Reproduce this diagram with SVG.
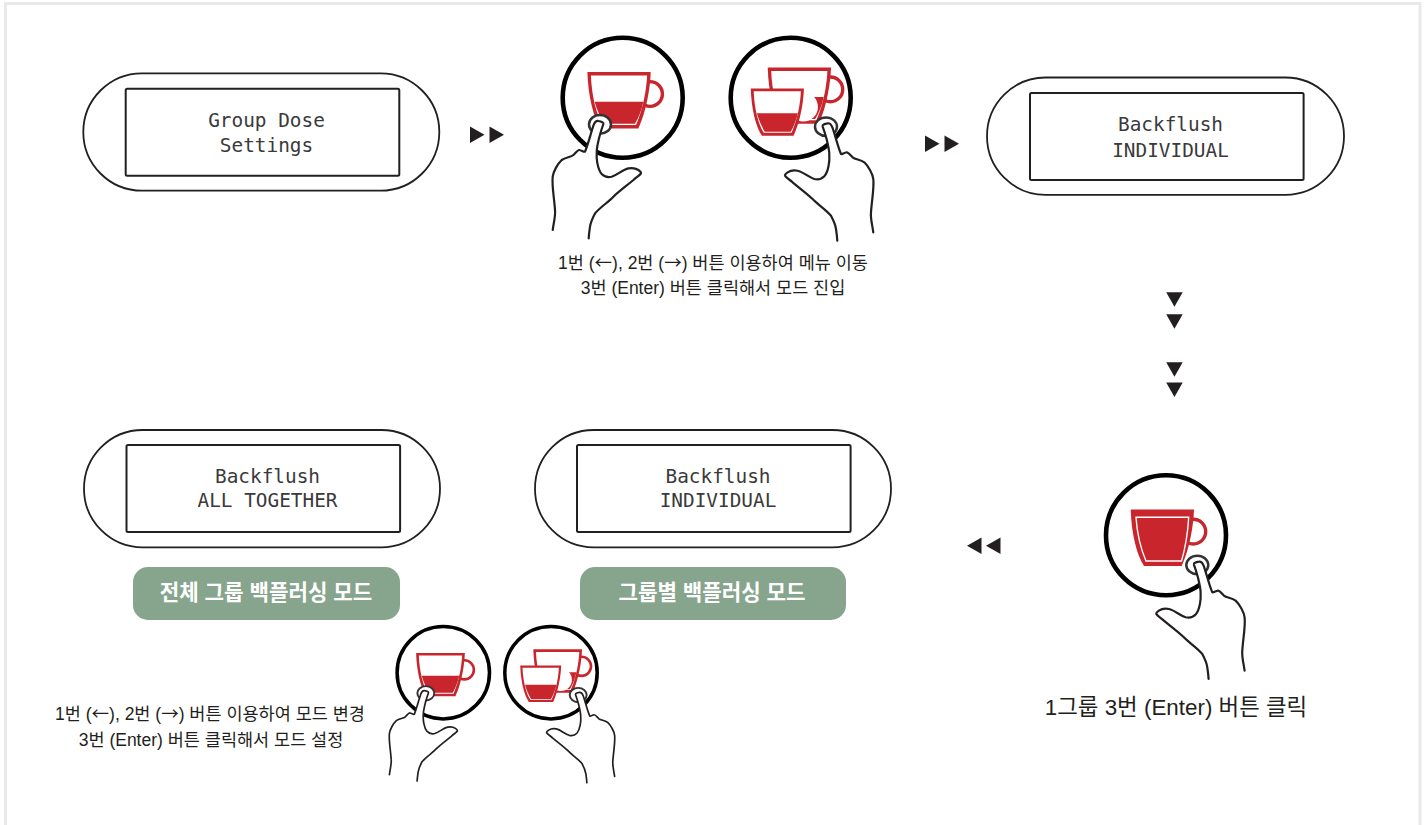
<svg xmlns="http://www.w3.org/2000/svg" xmlns:xlink="http://www.w3.org/1999/xlink" width="1428" height="825" viewBox="0 0 1428 825">
<style>
.frame{fill:#fff;stroke:#e9e9e9;stroke-width:3}
.pill{fill:#fff;stroke:#231f20;stroke-width:1.8}
.lcd{fill:#fff;stroke:#231f20;stroke-width:2}
.mono{font-family:"DejaVu Sans Mono","Liberation Mono",monospace;font-size:19.4px;fill:#3a3a3a;text-anchor:middle}
.ko{font-family:"Liberation Sans","Noto Sans CJK KR",sans-serif;fill:#231f20;text-anchor:middle}
.ar{font-family:"Noto Sans CJK KR",sans-serif}
.tag{fill:#87a48d}
.tagt{font-family:"Liberation Sans","Noto Sans CJK KR",sans-serif;font-size:21.2px;font-weight:700;fill:#fff;text-anchor:middle}
.arrow{fill:#231f20}
.red{fill:#c8252c}
.wh{fill:#fff}
.ring{fill:#fff;stroke:#333;stroke-width:2.5}
.hand{fill:#fff;stroke:#231f20;stroke-width:2.2;stroke-linejoin:round;stroke-linecap:round}
.dial{fill:#fff;stroke:#000;stroke-width:4.6}
</style>
<defs>
<path id="cupo" d="M-35.3,-25.7H28C27.5,-10 24,12 15.7,30.7H-22C-29,20 -34.5,0 -35.3,-25.7Z"/>
<path id="cupi" d="M-31.8,-22.2H24.4C23.8,-9 20.8,10 13.3,27.2H-19.8C-26,18 -31,-1 -31.8,-22.2Z"/>
<path id="liq" d="M-28,4H20.7C19,12 16,20 12.2,26H-18.7C-22,20 -26,12 -28,4Z"/>
<g id="cuphalf">
<circle cx="27.3" cy="-3.7" r="12.4" fill="#fff" stroke="#c8252c" stroke-width="3.4"/>
<use xlink:href="#cupo" href="#cupo" class="red"/>
<use xlink:href="#cupi" href="#cupi" class="wh"/>
<use xlink:href="#liq" href="#liq" class="red"/>
</g>
<g id="cupdouble">
<use xlink:href="#cuphalf" href="#cuphalf" transform="translate(12.3,-4.6)"/>
<circle cx="12.6" cy="9.2" r="14.6" fill="#fff"/>
<g transform="translate(-10.3,12.3) scale(.84)">
<use xlink:href="#cupo" href="#cupo" class="red"/>
<use xlink:href="#cupi" href="#cupi" class="wh"/>
<use xlink:href="#liq" href="#liq" class="red"/>
</g>
</g>
<g id="cupfull">
<circle cx="27.3" cy="-3.7" r="12.4" fill="#fff" stroke="#c8252c" stroke-width="3.4"/>
<use xlink:href="#cupo" href="#cupo" class="red"/>
<path d="M-30,-18H22.7C22,-6 19.5,12 15.5,25.7H-20C-25,14 -29,-2 -30,-18Z" class="red" stroke="#fff" stroke-width="1.4"/>
</g>
<g id="hand">
<ellipse cx="-22.7" cy="26.7" rx="11" ry="9.3" class="ring"/>
<path class="hand" d="M-70,132.3C-69,125 -67,118 -67.7,112.3C-68.5,100 -71,88 -70,79C-69.5,74 -65,66 -61,62.3C-57,59.5 -52,59.5 -49.3,57.3C-47,55 -45,52 -43.3,52.3C-41,52.8 -39,54.5 -37.7,54C-35,48 -32,36 -29.3,28C-28,24.5 -26,23 -24.3,23.3C-21,23.8 -19,25 -19.3,26.3C-21,31 -22.5,36 -23.3,39C-25,46 -26,50 -26,54C-26.3,60 -26.2,62 -25.3,65.7C-24.5,70 -23,74 -21,76.3C-18,79.5 -14,79.7 -11,79C-5,77 0,72 5.7,70.7C9,70 13,70.5 15.7,72.3C17.5,73.5 18.5,74.5 18.3,75.7C17,78 13.5,79.5 10.7,82.3C4,88 -3,93 -9.3,99C-15,105 -22,109 -27.7,115.7C-30,120 -32,124 -32.7,129C-33.3,133 -33.8,137 -34,140.7"/>
</g>
<g id="iconone">
<circle r="60" class="dial"/>
<use xlink:href="#cuphalf" href="#cuphalf"/>
<use xlink:href="#hand" href="#hand"/>
</g>
<g id="icontwo">
<circle r="60" class="dial"/>
<use xlink:href="#cupdouble" href="#cupdouble"/>
<use xlink:href="#hand" href="#hand" transform="translate(12.6,2.3) scale(-1,1)"/>
</g>
<path id="tri-r" d="M0,0L14.5,8.25L0,16.5Z"/>
</defs>
<rect id="frame" x="5.5" y="3.5" width="1414.5" height="840" class="frame"/>
<g id="connectors">
<use xlink:href="#tri-r" href="#tri-r" class="arrow" transform="translate(470,126.5)"/>
<use xlink:href="#tri-r" href="#tri-r" class="arrow" transform="translate(489.5,126.5)"/>
<use xlink:href="#tri-r" href="#tri-r" class="arrow" transform="translate(925,135.5)"/>
<use xlink:href="#tri-r" href="#tri-r" class="arrow" transform="translate(944.5,135.5)"/>
<use xlink:href="#tri-r" href="#tri-r" class="arrow" transform="translate(1182.7,292.3) rotate(90)"/>
<use xlink:href="#tri-r" href="#tri-r" class="arrow" transform="translate(1182.7,314.3) rotate(90)"/>
<use xlink:href="#tri-r" href="#tri-r" class="arrow" transform="translate(1182.7,362.3) rotate(90)"/>
<use xlink:href="#tri-r" href="#tri-r" class="arrow" transform="translate(1182.7,382.5) rotate(90)"/>
<use xlink:href="#tri-r" href="#tri-r" class="arrow" transform="translate(981.5,554) rotate(180)"/>
<use xlink:href="#tri-r" href="#tri-r" class="arrow" transform="translate(1000.5,554) rotate(180)"/>
</g>
<g id="node-group-dose">
<rect x="83.3" y="73.3" width="356" height="117.4" rx="58.7" class="pill"/>
<rect x="125.7" y="88.7" width="273.6" height="87" rx="1.5" class="lcd"/>
<text x="266.5" y="127" class="mono">Group Dose</text>
<text x="266.5" y="152" class="mono">Settings</text>
</g>
<g id="node-backflush-top">
<rect x="987" y="77.5" width="357" height="117.4" rx="58.7" class="pill"/>
<rect x="1030" y="93" width="273.6" height="87" rx="1.5" class="lcd"/>
<text x="1170.5" y="131" class="mono">Backflush</text>
<text x="1170.5" y="157" class="mono">INDIVIDUAL</text>
</g>
<g id="node-all-together">
<rect x="84" y="430" width="356" height="117.4" rx="58.7" class="pill"/>
<rect x="126.5" y="445" width="273.6" height="87" rx="1.5" class="lcd"/>
<text x="267.5" y="483" class="mono">Backflush</text>
<text x="267.5" y="507" class="mono">ALL TOGETHER</text>
</g>
<g id="node-individual">
<rect x="535" y="430" width="356" height="117.4" rx="58.7" class="pill"/>
<rect x="577" y="445" width="273.6" height="87" rx="1.5" class="lcd"/>
<text x="718" y="483" class="mono">Backflush</text>
<text x="718" y="507" class="mono">INDIVIDUAL</text>
</g>
<g id="node-tag-all">
<rect x="133" y="567" width="267" height="53" rx="15" class="tag"/>
<text x="266" y="600" class="tagt">전체 그룹 백플러싱 모드</text>
</g>
<g id="node-tag-group">
<rect x="580" y="567" width="266" height="53" rx="15" class="tag"/>
<text x="712" y="600" class="tagt">그룹별 백플러싱 모드</text>
</g>
<g id="node-icons-top">
<use xlink:href="#iconone" href="#iconone" transform="translate(622.7,97.7)"/>
<use xlink:href="#icontwo" href="#icontwo" transform="translate(790.7,97.7)"/>
<text x="713" y="269" class="ko" font-size="17.5">1번 (<tspan class="ar">←</tspan>), 2번 (<tspan class="ar">→</tspan>) 버튼 이용하여 메뉴 이동</text>
<text x="713" y="294" class="ko" font-size="17.5">3번 (Enter) 버튼 클릭해서 모드 진입</text>
</g>
<g id="node-icon-enter">
<g transform="translate(1166,535.3)">
<circle r="60" class="dial"/>
<use xlink:href="#cupfull" href="#cupfull"/>
<use xlink:href="#hand" href="#hand" transform="translate(8.6,3) scale(-1,1)"/>
</g>
<text x="1176" y="715" class="ko" font-size="22.4">1그룹 3번 (Enter) 버튼 클릭</text>
</g>
<g id="node-icons-bottom">
<use xlink:href="#iconone" href="#iconone" transform="translate(443.3,672.7) scale(.77)"/>
<use xlink:href="#icontwo" href="#icontwo" transform="translate(551,672.7) scale(.77)"/>
<text x="210" y="720" class="ko" font-size="17.5">1번 (<tspan class="ar">←</tspan>), 2번 (<tspan class="ar">→</tspan>) 버튼 이용하여 모드 변경</text>
<text x="211" y="745.5" class="ko" font-size="17.5">3번 (Enter) 버튼 클릭해서 모드 설정</text>
</g>
</svg>
